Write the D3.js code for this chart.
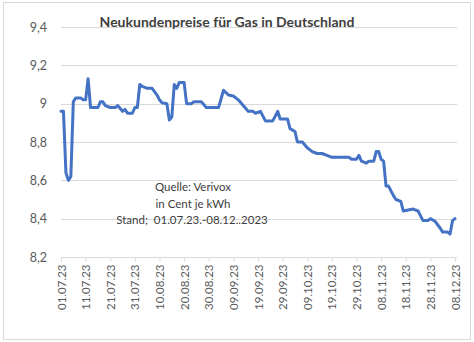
<!DOCTYPE html>
<html><head><meta charset="utf-8">
<script src="https://cdn.jsdelivr.net/npm/d3@7"></script>
<style>html,body{margin:0;padding:0;background:#fff;}svg{display:block;font-family:Lato,"Open Sans",sans-serif;}</style>
</head><body>
<script>
const dates = ["01.07.23","02.07.23","03.07.23","04.07.23","05.07.23","06.07.23","07.07.23","09.07.23","10.07.23","11.07.23","12.07.23","13.07.23","16.07.23","17.07.23","18.07.23","19.07.23","21.07.23","23.07.23","24.07.23","26.07.23","27.07.23","28.07.23","30.07.23","31.07.23",
"01.08.23","02.08.23","03.08.23","05.08.23","07.08.23","09.08.23","10.08.23","11.08.23","13.08.23","14.08.23","15.08.23","16.08.23","17.08.23","18.08.23","20.08.23","21.08.23","23.08.23","24.08.23","27.08.23","29.08.23",
"03.09.23","05.09.23","07.09.23","09.09.23","11.09.23","13.09.23","15.09.23","17.09.23","18.09.23","20.09.23","22.09.23","25.09.23","27.09.23","28.09.23",
"01.10.23","02.10.23","04.10.23","05.10.23","07.10.23","09.10.23","11.10.23","13.10.23","15.10.23","17.10.23","19.10.23","26.10.23","27.10.23","29.10.23","30.10.23","31.10.23",
"02.11.23","03.11.23","05.11.23","06.11.23","07.11.23","08.11.23","09.11.23","10.11.23","11.11.23","13.11.23","14.11.23","16.11.23","17.11.23","19.11.23","21.11.23","23.11.23","25.11.23","27.11.23","28.11.23","30.11.23",
"02.12.23","03.12.23","05.12.23","06.12.23","07.12.23","08.12.23"];
const prices = [8.96,8.96,8.64,8.60,8.62,9.01,9.03,9.03,9.02,9.02,9.13,8.98,8.98,9.01,9.01,8.99,8.98,8.98,8.99,8.96,8.97,8.95,8.95,8.98,
8.98,9.10,9.09,9.08,9.08,9.045,9.02,9.005,9.00,8.915,8.93,9.10,9.08,9.11,9.11,9.00,9.00,9.01,9.01,8.98,
8.98,9.07,9.045,9.04,9.02,8.99,8.96,8.96,8.95,8.96,8.91,8.91,8.96,8.92,
8.92,8.87,8.855,8.80,8.80,8.77,8.75,8.74,8.74,8.73,8.72,8.72,8.71,8.71,8.73,8.70,
8.69,8.70,8.70,8.75,8.75,8.71,8.70,8.57,8.57,8.52,8.50,8.49,8.44,8.445,8.45,8.44,8.39,8.39,8.40,8.385,
8.35,8.33,8.33,8.32,8.39,8.40];
const yTicks = [8.2,8.4,8.6,8.8,9.0,9.2,9.4];
const xTickLabels = ["01.07.23","11.07.23","21.07.23","31.07.23","10.08.23","20.08.23","30.08.23","09.09.23","19.09.23","29.09.23","09.10.23","19.10.23","29.10.23","08.11.23","18.11.23","28.11.23","08.12.23"];
const title = "Neukundenpreise für Gas in Deutschland";
const note = ["Quelle: Verivox","in Cent je kWh","Stand;  01.07.23.-08.12..2023"];

const W=474,H=342;
const parse = d3.timeParse("%d.%m.%y");
const fmtY = v => d3.format(".1f")(v).replace(".",",").replace(/,0$/,"");
const data = dates.map((d,i)=>({date:parse(d),v:prices[i]}));
const m={left:61,right:457,top:27,bottom:257};
const svg=d3.select("body").append("svg").attr("width",W).attr("height",H);
svg.append("rect").attr("x",3.5).attr("y",2.5).attr("width",467).attr("height",337).attr("fill","#fff").attr("stroke","#d9d9d9");

const x=d3.scaleTime().domain([parse("01.07.23"),parse("08.12.23")]).range([m.left,455]);
const y=d3.scaleLinear().domain([8.2,9.4]).range([m.bottom,m.top]);

// grid
svg.append("g").selectAll("line").data(yTicks.slice(1)).join("line")
  .attr("x1",m.left).attr("x2",m.right).attr("y1",d=>Math.round(y(d))+0.5).attr("y2",d=>Math.round(y(d))+0.5)
  .attr("stroke","#d9d9d9").attr("stroke-width",1);

// y axis labels
const ya=svg.append("g").attr("transform",`translate(${m.left},0)`)
  .call(d3.axisLeft(y).tickValues(yTicks).tickFormat(fmtY).tickSize(0).tickPadding(14));
ya.select(".domain").remove();
ya.selectAll("text").attr("font-size",12.5).attr("fill","#595959").attr("font-family","Lato,sans-serif");

// x axis
const xa=svg.append("g").attr("transform",`translate(0,${Math.round(m.bottom)+0.5})`)
  .call(d3.axisBottom(x).tickValues(xTickLabels.map(parse)).tickFormat(d3.timeFormat("%d.%m.%y")).tickSize(4).tickSizeOuter(0));
xa.select(".domain").attr("stroke","#d9d9d9").attr("d",`M${m.left},0H${m.right}`);
xa.selectAll(".tick line").attr("stroke","#d9d9d9");
xa.selectAll("text").attr("font-size",11.5).attr("fill","#595959").attr("font-family","Lato,sans-serif")
  .attr("transform","rotate(-90)").attr("text-anchor","end").attr("dx","-7").attr("dy","0.35em").attr("x",0).attr("y",0);

// line
svg.append("path").datum(data).attr("fill","none").attr("stroke","#4472c4").attr("stroke-width",3)
  .attr("stroke-linejoin","round").attr("stroke-linecap","round")
  .attr("d",d3.line().x(d=>x(d.date)).y(d=>y(d.v)));

// title
svg.append("text").attr("x",227).attr("y",27).attr("text-anchor","middle").attr("font-size",14)
  .attr("font-weight","bold").attr("fill","#404040").attr("font-family","Lato,sans-serif").text(title);

// note
svg.append("g").selectAll("text").data(note).join("text")
  .attr("x",(d,i)=>i<2?193:192).attr("y",(d,i)=>[191,208,224][i]).attr("text-anchor","middle")
  .style("white-space","pre")
  .attr("font-size",11.5).attr("fill","#404040").attr("font-family","Lato,sans-serif").text(d=>d);
</script>
</body></html>
